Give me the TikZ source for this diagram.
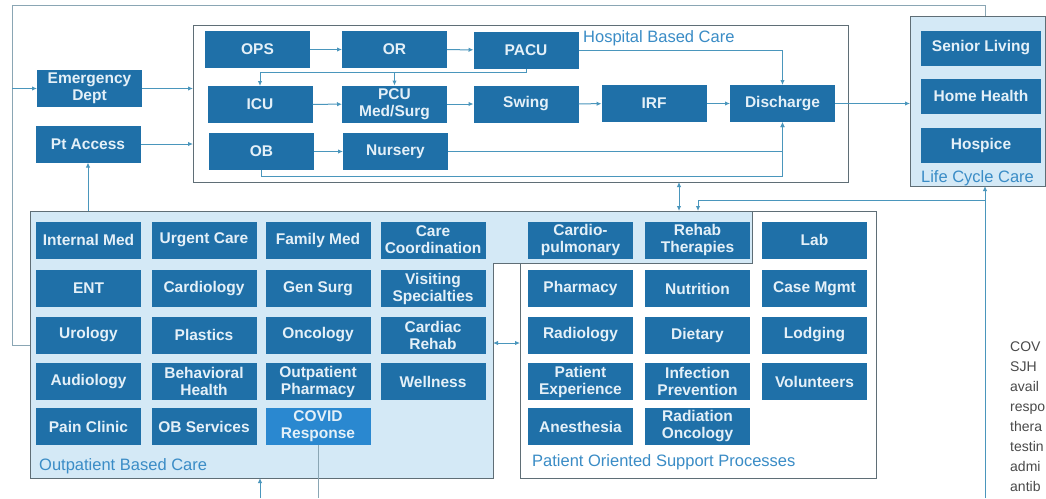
\documentclass[tikz,border=0pt]{standalone}
\usepackage{fontspec}
\setmainfont{Liberation Sans}
\usetikzlibrary{arrows.meta}

\definecolor{unitblue}{HTML}{1F70A8}
\definecolor{covidblue}{HTML}{2A88D0}
\definecolor{unittext}{HTML}{E4F0F8}
\definecolor{paleblue}{HTML}{D4E9F6}
\definecolor{wireblue}{HTML}{4A96BC}
\definecolor{railgray}{HTML}{8AA6B4}
\definecolor{framegray}{HTML}{5F6E76}
\definecolor{labelblue}{HTML}{3A8CC6}
\definecolor{notegray}{HTML}{4A4A4A}

\tikzset{
  unit/.style={fill=unitblue, text=unittext, font=\bfseries\fontsize{15.5}{17}\selectfont,
    minimum width=105pt, minimum height=37pt, inner sep=0pt, outer sep=0pt, align=center},
  lifeunit/.style={unit, minimum width=120pt, minimum height=35pt},
  area/.style={inner sep=0pt, outer sep=0pt},
  frame/.style={draw=framegray, line width=0.9pt},
  flow/.style={draw=wireblue, line width=1pt, -{Latex[length=5pt,width=4.5pt]}},
  twoway/.style={draw=wireblue, line width=1pt, {Latex[length=5pt,width=4.5pt]}-{Latex[length=5pt,width=4.5pt]}},
  rail/.style={draw=railgray, line width=0.8pt},
  grouplabel/.style={text=labelblue, font=\fontsize{16.5}{18}\selectfont, inner sep=0pt},
}

\begin{document}
\begin{tikzpicture}[x=1pt, y=-1pt]
  \useasboundingbox[fill=white] (0,0) rectangle (1046,498);

  % group boxes
  \node[area, frame, minimum width=655pt, minimum height=157pt] (hosp) at (520.5,103.5) {};
  \node[area, frame, fill=paleblue, minimum width=135pt, minimum height=170pt] (lc) at (977.5,101) {};
  \node[area, frame, fill=white, minimum width=356pt, minimum height=267pt] (sup) at (698,344.5) {};
  \node[area, fill=paleblue, minimum width=463pt, minimum height=267pt] (op) at (261.5,344.5) {};
  \node[area, fill=paleblue, minimum width=722pt, minimum height=52pt] (band) at (391,237) {};
  \draw[frame] (op.north west) -- (band.north east) -- (band.south east)
    -- (band.south -| op.east) -- (op.south east) -- (op.south west) -- cycle;

  \node[grouplabel, anchor=west] at (583,38) {Hospital Based Care};
  \node[grouplabel] at (977.5,178) {Life Cycle Care};
  \node[grouplabel, anchor=west] at (39,466) {Outpatient Based Care};
  \node[grouplabel, anchor=west] at (532,462) {Patient Oriented Support Processes};

  % hospital based care
  \node[unit] (ops) at (257.5,49.5) {OPS};
  \node[unit] (oroom) at (394.5,49.5) {OR};
  \node[unit] (pacu) at (526,50) {PACU};
  \node[unit] (ed) at (89.5,88.5) {Emergency\\Dept};
  \node[unit] (ptacc) at (88,144) {Pt Access};
  \node[unit] (icu) at (260,104.5) {ICU};
  \node[unit] (pcu) at (394.5,104) {PCU\\Med/Surg};
  \node[unit] (swing) at (526,104) {Swing};
  \node[unit] (irf) at (654,103.5) {IRF};
  \node[unit] (dis) at (782.5,103.5) {Discharge};
  \node[unit] (ob) at (261.5,151.5) {OB};
  \node[unit] (nursery) at (395.5,151.5) {Nursery};

  % life cycle care
  \node[lifeunit] (senior) at (981,48) {Senior Living};
  \node[lifeunit] (home) at (981,96) {Home Health};
  \node[lifeunit] (hospice) at (981,145) {Hospice};

  % outpatient based care
  \node[unit] (im) at (88.5,240) {Internal Med};
  \node[unit] (uc) at (204,240) {Urgent Care};
  \node[unit] (fm) at (318,240) {Family Med};
  \node[unit] (cc) at (433,240) {Care\\Coordination};
  \node[unit] (ent) at (88.5,288.5) {ENT};
  \node[unit] (card) at (204,288.5) {Cardiology};
  \node[unit] (gs) at (318,288.5) {Gen Surg};
  \node[unit] (vs) at (433,288.5) {Visiting\\Specialties};
  \node[unit] (uro) at (88.5,335) {Urology};
  \node[unit] (plas) at (204,335) {Plastics};
  \node[unit] (onc) at (318,335) {Oncology};
  \node[unit] (crehab) at (433,335) {Cardiac\\Rehab};
  \node[unit] (aud) at (88.5,381.5) {Audiology};
  \node[unit] (bh) at (204,381.5) {Behavioral\\Health};
  \node[unit] (opharm) at (318,381.5) {Outpatient\\Pharmacy};
  \node[unit] (well) at (433,381.5) {Wellness};
  \node[unit] (pain) at (88.5,426.5) {Pain Clinic};
  \node[unit] (obs) at (204,426.5) {OB Services};
  \node[unit, fill=covidblue] (covid) at (318,426.5) {COVID\\Response};

  % patient oriented support processes
  \node[unit] (cp) at (580.5,240) {Cardio-\\pulmonary};
  \node[unit] (rt) at (697.5,240) {Rehab\\Therapies};
  \node[unit] (lab) at (814.5,240) {Lab};
  \node[unit] (pharm) at (580.5,288.5) {Pharmacy};
  \node[unit] (nut) at (697.5,288.5) {Nutrition};
  \node[unit] (cm) at (814.5,288.5) {Case Mgmt};
  \node[unit] (rad) at (580.5,335) {Radiology};
  \node[unit] (diet) at (697.5,335) {Dietary};
  \node[unit] (lodg) at (814.5,335) {Lodging};
  \node[unit] (pe) at (580.5,381.5) {Patient\\Experience};
  \node[unit] (ip) at (697.5,381.5) {Infection\\Prevention};
  \node[unit] (vol) at (814.5,381.5) {Volunteers};
  \node[unit] (anes) at (580.5,426.5) {Anesthesia};
  \node[unit] (ro) at (697.5,426.5) {Radiation\\Oncology};

  % note at the right edge
  \node[anchor=north west, align=left, inner sep=0pt, text=notegray,
    font=\fontsize{14}{20}\selectfont] (note) at (1010,342)
    {COV\\SJH\\avail\\respo\\thera\\testin\\admi\\antib};

  % free ends
  \coordinate (rail) at (12,5);
  \coordinate (railR) at (985,5);
  \coordinate (loopin) at (30,345);
  \coordinate (split) at (526,72);
  \coordinate (obrun) at (261.5,176);
  \coordinate (hsx) at (679,0);
  \coordinate (feed) at (985,498);
  \coordinate (tap) at (985,200);
  \coordinate (tapend) at (698,0);
  \coordinate (midrow) at (0,343);
  \coordinate (opin) at (260,498);

  % connectors
  \draw[rail] (loopin) -- (loopin -| rail) -- (rail) -- (railR) -- (railR |- lc.north);
  \draw[flow] (ed -| rail) -- (ed.west);
  \draw[flow] (ed) -- (ed -| hosp.west);
  \draw[flow] (ptacc) -- (ptacc -| hosp.west);
  \draw[flow] (ptacc |- op.north) -- (ptacc.south);
  \draw[flow] (ops) -- (oroom);
  \draw[flow] (oroom) -- (pacu);
  \draw[flow] (pacu.south) -- (split) -| (icu.north);
  \draw[flow] (split -| pcu) -- (pcu.north);
  \draw[flow] (icu) -- (pcu);
  \draw[flow] (pcu) -- (swing);
  \draw[flow] (swing) -- (irf);
  \draw[flow] (irf) -- (dis);
  \draw[flow] (ob) -- (nursery);
  \draw[flow] (pacu.east) -| (dis.north);
  \draw[flow] (nursery.east) -| (dis.south);
  \draw[flow] (ob.south) -- (obrun) -| (dis.south);
  \draw[flow] (dis) -- (dis -| lc.west);
  \draw[twoway] (hsx |- hosp.south) -- (hsx |- band.north);
  \draw[flow] (feed) -- (feed |- lc.south);
  \draw[flow] (tap) -| (tapend |- band.north);
  \draw[twoway] (midrow -| op.east) -- (midrow -| sup.west);
  \draw[flow] (opin) -- (opin |- op.south);
  \draw[rail] (covid.south) -- (covid.south |- opin);
\end{tikzpicture}
\end{document}
